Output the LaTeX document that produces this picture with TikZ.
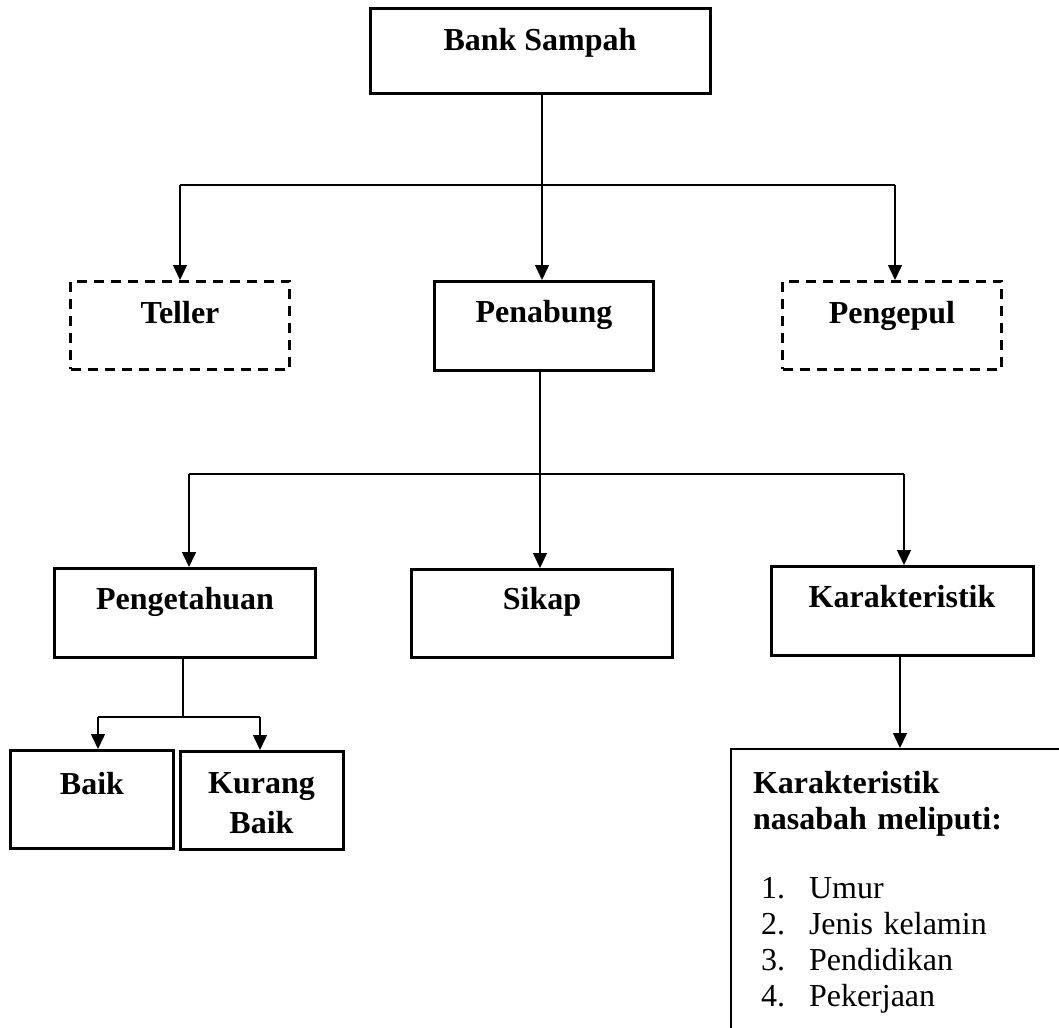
\documentclass[tikz,border=0pt]{standalone}
\usepackage{fontspec}
\setmainfont{Liberation Serif}
\usetikzlibrary{arrows.meta}
\tikzset{
    box/.style={
        draw,
        line width=3pt,
        inner sep=0pt,
        anchor=north,
        align=center,
        minimum width=219pt,
        text height=41pt,
        text depth=48pt,
        font=\bfseries\fontsize{32}{40}\selectfont},
    dashbox/.style={
        box,
        line width=2.5pt,
        dash pattern=on 10pt off 7pt},
    link/.style={line width=1.5pt},
    >={Triangle[width=14pt,length=15pt]}}

\begin{document}
\begin{tikzpicture}[x=1pt,y=-1pt]
    \useasboundingbox (0,0) rectangle (1059,1027);
    \clip (0,0) rectangle (1059,1027);

    \node[box, minimum width=340pt, text height=42pt, text depth=43pt] (bank) at (540,7) {Bank Sampah};

    \node[dashbox, text height=42pt, text depth=46pt] (teller) at (180,280) {Teller};
    \node[box] (penabung) at (544,280) {Penabung};
    \node[dashbox, text height=42pt, text depth=46pt] (pengepul) at (892,280) {Pengepul};

    \node[box, minimum width=261pt] (pengetahuan) at (185,567) {Pengetahuan};
    \node[box, minimum width=261pt, text height=40pt] (sikap) at (542,568) {Sikap};
    \node[box, minimum width=262pt] (karakteristik) at (902,565) {Karakteristik};

    \node[box, minimum width=163pt, text height=44pt, text depth=54pt] (baik) at (92,749) {Baik};
    \node[box, minimum width=163pt, text height=82pt, text depth=16pt] (kurang) at (261.5,750) {Kurang\\Baik};

    \node[draw, line width=2pt, anchor=north west, inner xsep=22pt, inner ysep=0pt,
        text width=330pt, text height=44pt, text depth=400pt, align=left,
        font=\fontsize{32}{36}\selectfont] (nasabah) at (730,748)
        {\textbf{Karakteristik}\\
         \textbf{nasabah meliputi:}\\[33pt]
         \hspace*{8pt}\makebox[48pt][l]{1.}Umur\\
         \hspace*{8pt}\makebox[48pt][l]{2.}Jenis kelamin\\
         \hspace*{8pt}\makebox[48pt][l]{3.}Pendidikan\\
         \hspace*{8pt}\makebox[48pt][l]{4.}Pekerjaan};

    % split points
    \coordinate (s1) at (542,185);
    \coordinate (s1l) at (180,185);
    \coordinate (s1r) at (895,185);
    \coordinate (s2) at (540,474);
    \coordinate (s2l) at (189,474);
    \coordinate (s2r) at (904,474);
    \coordinate (s3) at (183,717);
    \coordinate (s3l) at (98,717);
    \coordinate (s3r) at (260,717);
    \coordinate (s4) at (900,654);

    \draw[link] (s1 |- bank.south) -- (s1);
    \draw[link] (s1l) -- (s1r);
    \draw[link,->] (s1l) -- (s1l |- teller.north);
    \draw[link,->] (s1) -- (s1 |- penabung.north);
    \draw[link,->] (s1r) -- (s1r |- pengepul.north);

    \draw[link] (s2 |- penabung.south) -- (s2);
    \draw[link] (s2l) -- (s2r);
    \draw[link,->] (s2l) -- (s2l |- pengetahuan.north);
    \draw[link,->] (s2) -- (s2 |- sikap.north);
    \draw[link,->] (s2r) -- (s2r |- karakteristik.north);

    \draw[link] (s3 |- pengetahuan.south) -- (s3);
    \draw[link] (s3l) -- (s3r);
    \draw[link,->] (s3l) -- (s3l |- baik.north);
    \draw[link,->] (s3r) -- (s3r |- kurang.north);

    \draw[link,->] (s4 |- karakteristik.south) -- (s4 |- nasabah.north);
\end{tikzpicture}
\end{document}
